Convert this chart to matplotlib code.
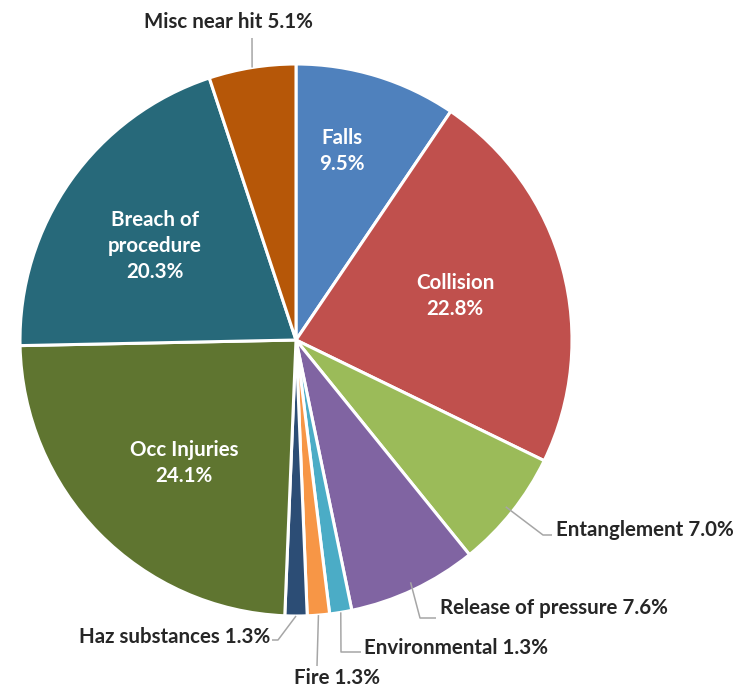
import numpy as np
import matplotlib.pyplot as plt

plt.rcParams['font.family'] = ['Lato', 'DejaVu Sans']

# slice data, clockwise from 12 o'clock
labels = ['Falls', 'Collision', 'Entanglement', 'Release of pressure', 'Environmental',
          'Fire', 'Haz substances', 'Occ Injuries', 'Breach of\nprocedure', 'Misc near hit']
values = [9.5, 22.8, 7.0, 7.6, 1.3, 1.3, 1.3, 24.1, 20.3, 5.1]
colors = ['#4F81BD', '#C0504D', '#9BBB59', '#8064A2', '#4BACC6',
          '#F79646', '#2C4D75', '#5F7530', '#27697A', '#B65708']

W, H = 747, 690
fig = plt.figure(figsize=(W / 100, H / 100), dpi=100)
ax = fig.add_axes([0, 0, 1, 1])

cx, cy, R = 296, H - 340, 276
wedges, _ = ax.pie(values, colors=colors, startangle=90, counterclock=False,
                   radius=R, center=(cx, cy), frame=True,
                   wedgeprops=dict(edgecolor='white', linewidth=2.2))
ax.set_xlim(0, W)
ax.set_ylim(0, H)
ax.set_aspect('equal')
ax.axis('off')


def mid(w):
    return np.deg2rad((w.theta1 + w.theta2) / 2)


fs = 14.8

# inside labels (white)
inside = {0: (342, H - 151), 1: (455, H - 296), 7: (184, H - 463), 8: (155, H - 246)}
for i, (x, y) in inside.items():
    ax.text(x, y, '%s\n%.1f%%' % (labels[i], values[i]),
            ha='center', va='center', color='white', fontsize=fs,
            fontweight='bold', linespacing=1.35)

# outside labels with leader lines: (elbow, end-of-line, text pos, ha)
lc = '#A6A6A6'
outside = {
    2: ((543, H - 535), (552, H - 535), (556, H - 530), 'left'),
    3: ((420, H - 618), (436, H - 618), (440, H - 608), 'left'),
    4: ((341, H - 652), (361, H - 652), (364, H - 648), 'left'),
    5: ((317, H - 666), (317, H - 666), (337, H - 678), 'center'),
    6: ((278, H - 640), (272, H - 640), (270, H - 637), 'right'),
    9: ((252, H - 38), (252, H - 38), (228, H - 22), 'center'),
}
for i, (elbow, end, tp, ha) in outside.items():
    a = mid(wedges[i])
    r0 = R - 8 if i in (2, 3) else R
    x0, y0 = cx + r0 * np.cos(a), cy + r0 * np.sin(a)
    ax.plot([x0, elbow[0], end[0]], [y0, elbow[1], end[1]], color=lc, lw=1.1,
            solid_capstyle='butt')
    ax.text(tp[0], tp[1], '%s %.1f%%' % (labels[i], values[i]), ha=ha, va='center',
            color='#262626', fontsize=fs, fontweight='bold')

fig.savefig('out.png', dpi=100)
